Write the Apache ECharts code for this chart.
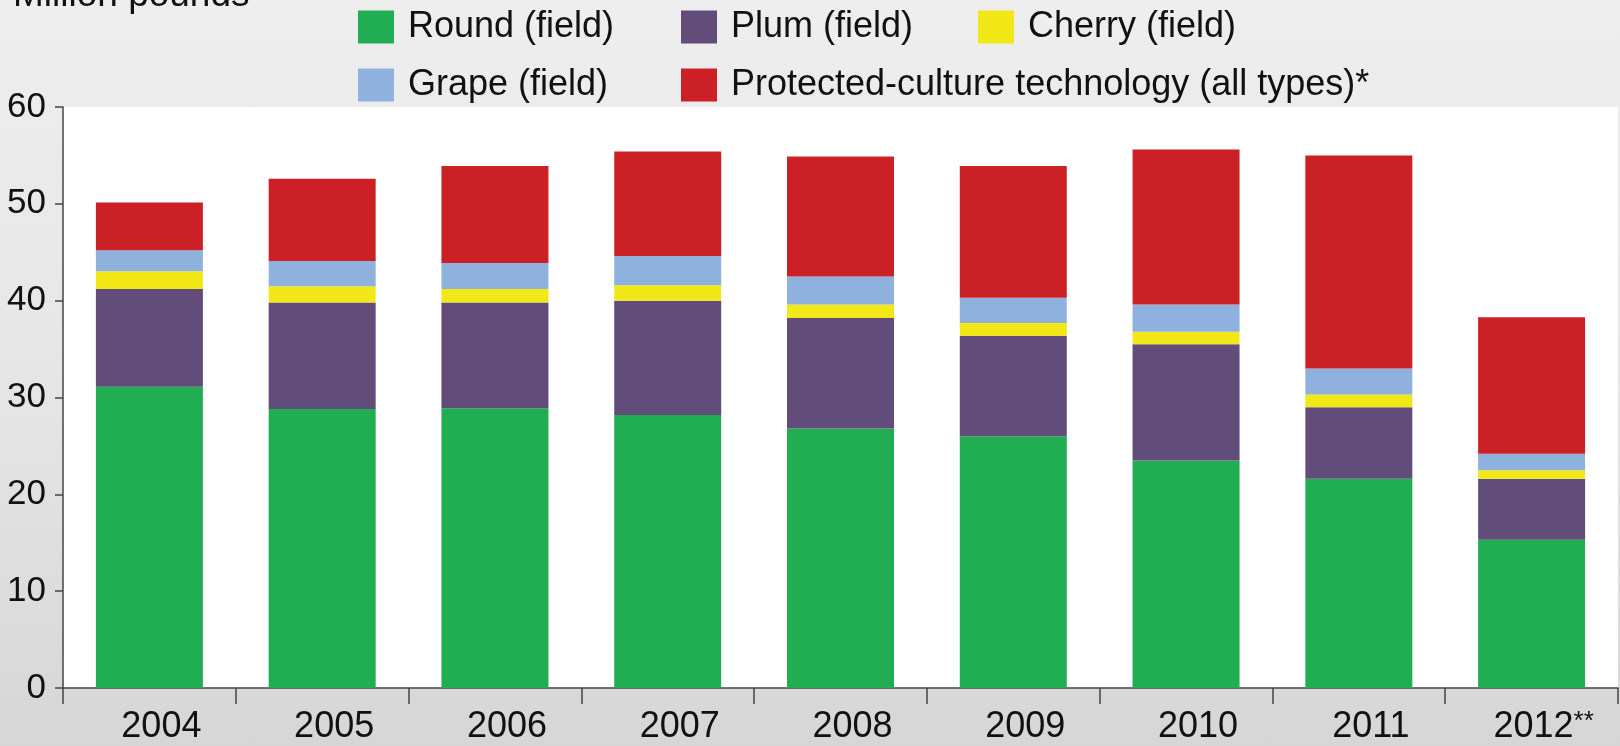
<!DOCTYPE html>
<html>
<head>
<meta charset="utf-8">
<script src="https://cdn.jsdelivr.net/npm/echarts@6/dist/echarts.min.js"></script>
<style>
  html, body { margin: 0; padding: 0; }
  body { width: 1620px; height: 746px; background: linear-gradient(to bottom, #eeeeee 0%, #e6e6e6 50%, #d6d6d6 100%); }
  #chart { width: 1620px; height: 746px; }
</style>
</head>
<body>
<div id="chart"></div>
<script>
const categories = ['2004', '2005', '2006', '2007', '2008', '2009', '2010', '2011', '2012**'];
const roundField = [31.1, 28.8, 28.9, 28.2, 26.8, 26.0, 23.5, 21.6, 15.3];
const plumField = [10.1, 11.0, 10.9, 11.8, 11.4, 10.35, 12.0, 7.4, 6.3];
const cherryField = [1.85, 1.7, 1.4, 1.6, 1.4, 1.35, 1.3, 1.3, 0.9];
const grapeField = [2.15, 2.6, 2.7, 3.0, 2.9, 2.6, 2.8, 2.7, 1.7];
const protectedCulture = [4.95, 8.5, 10.0, 10.8, 12.4, 13.6, 16.0, 22.0, 14.1];
const seriesNames = ['Round (field)', 'Plum (field)', 'Cherry (field)', 'Grape (field)', 'Protected-culture technology (all types)*'];
const seriesColors = ['#21ae52', '#624c7a', '#f2e817', '#8eb2dd', '#cc2027'];
const yTicks = { min: 0, max: 60, interval: 10 };
const yTitle = 'Million pounds';

const FONT = '"Liberation Sans", Arial, Helvetica, sans-serif';
const chart = echarts.init(document.getElementById('chart'), null, { renderer: 'canvas' });

const dataSets = [roundField, plumField, cherryField, grapeField, protectedCulture];
const legendPos = [
  { left: 358, top: 9 },
  { left: 681, top: 9 },
  { left: 978, top: 9 },
  { left: 358, top: 67 },
  { left: 681, top: 67 }
];

const legends = seriesNames.map((name, i) => ({
  data: [name],
  left: legendPos[i].left,
  top: legendPos[i].top,
  padding: 0,
  icon: 'rect',
  itemWidth: 36,
  itemHeight: 33,
  selectedMode: false,
  textStyle: { fontFamily: FONT, fontSize: 36, color: '#111', padding: [0, 0, 0, 9] }
}));

const option = {
  backgroundColor: 'transparent',
  animation: false,
  legend: legends,
  graphic: [{
    type: 'text',
    left: 13,
    top: -23,
    style: { text: yTitle, font: '37px ' + FONT, fill: '#111' }
  }],
  grid: {
    left: 63, right: 2, top: 107, bottom: 58,
    show: true, backgroundColor: '#ffffff', borderWidth: 0,
    containLabel: false
  },
  xAxis: {
    type: 'category',
    data: categories,
    axisLine: { show: true, lineStyle: { color: '#444', width: 1.5 } },
    axisTick: { show: true, length: 16, interval: 0, alignWithLabel: false, lineStyle: { color: '#444', width: 1.5 } },
    axisLabel: {
      interval: 0, hideOverlap: false,
      fontFamily: FONT, fontSize: 36, color: '#111', margin: 21, padding: [0, 0, 0, 24],
      formatter: function (v) {
        const idx = v.indexOf('*');
        if (idx < 0) return v;
        return v.slice(0, idx) + '{s|' + v.slice(idx) + '}';
      },
      rich: {
        s: { fontFamily: FONT, fontSize: 26, color: '#111', verticalAlign: 'top', padding: [0, 0, 0, 0] }
      }
    },
    splitLine: { show: false }
  },
  yAxis: {
    type: 'value',
    min: yTicks.min, max: yTicks.max, interval: yTicks.interval,
    axisLine: { show: true, lineStyle: { color: '#444', width: 1.5 } },
    axisTick: { show: true, length: 8, lineStyle: { color: '#444', width: 1.5 } },
    axisLabel: { fontFamily: FONT, fontSize: 35, color: '#111', margin: 17 },
    splitLine: { show: false }
  },
  series: seriesNames.map((name, i) => ({
    name: name,
    type: 'bar',
    stack: 'total',
    barWidth: 107,
    data: dataSets[i],
    itemStyle: { color: seriesColors[i] },
    emphasis: { disabled: true }
  }))
};
chart.setOption(option);
</script>
</body>
</html>
